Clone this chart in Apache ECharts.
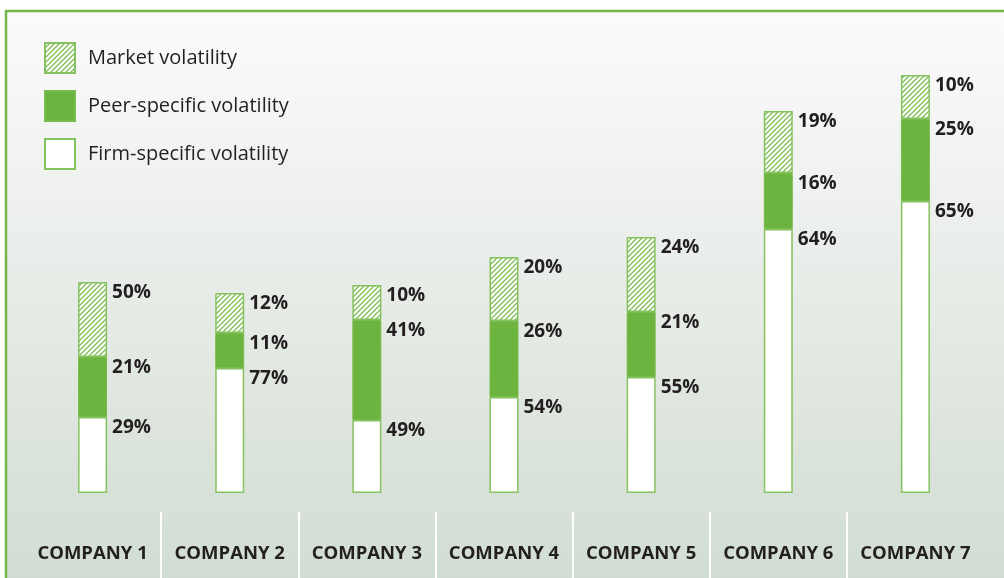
<!DOCTYPE html>
<html lang="en">
<head>
<meta charset="utf-8">
<title>Volatility breakdown</title>
<script src="https://cdn.jsdelivr.net/npm/echarts@6/dist/echarts.min.js"></script>
<style>
html,body{margin:0;padding:0;background:#fff;}
#main{width:1004px;height:578px;}
</style>
</head>
<body>
<div id="main"></div>
<script>
// categories
var companies = ['COMPANY 1','COMPANY 2','COMPANY 3','COMPANY 4','COMPANY 5','COMPANY 6','COMPANY 7'];
// drawn segment heights
var firmVal   = [76, 125, 73, 96, 116, 264, 292];
var peerVal   = [60, 35, 100, 76, 65, 56, 82];
var marketVal = [75, 40, 35, 64, 75, 62, 44];
// printed shares
var firmPct   = [29, 77, 49, 54, 55, 64, 65];
var peerPct   = [21, 11, 41, 26, 21, 16, 25];
var marketPct = [50, 12, 10, 20, 24, 19, 10];

var green = '#6db33f';
var edge = '#86c260';
var ink = '#231f20';
var font = '"Open Sans", sans-serif';

// hatch for market volatility
var hatch = document.createElement('canvas');
hatch.width = 5; hatch.height = 5;
var hc = hatch.getContext('2d');
hc.fillStyle = '#ffffff';
hc.fillRect(0, 0, 5, 5);
hc.strokeStyle = '#7dbd54';
hc.lineWidth = 1.3;
hc.beginPath();
hc.moveTo(-1, 6); hc.lineTo(6, -1);
hc.moveTo(-1, 1); hc.lineTo(1, -1);
hc.moveTo(4, 6); hc.lineTo(6, 4);
hc.stroke();

function lbl(arr) {
  return {
    show: true,
    position: ['100%', 0],
    offset: [5, 11],
    align: 'left',
    verticalAlign: 'middle',
    color: ink,
    fontFamily: font,
    fontWeight: 'bold',
    fontSize: 19,
    formatter: function (p) { return arr[p.dataIndex] + '%'; }
  };
}

var chart = echarts.init(document.getElementById('main'));
chart.setOption({
  backgroundColor: '#ffffff',
  animation: false,
  graphic: [
    {
      type: 'rect', silent: true, z: -10,
      shape: {x: 6, y: 11, width: 1000, height: 570},
      style: {
        fill: new echarts.graphic.LinearGradient(0, 0, 0, 1, [
          {offset: 0, color: '#fbfbfb'},
          {offset: 0.45, color: '#e9ede9'},
          {offset: 1, color: '#d1ddd2'}
        ])
      }
    },
    {
      type: 'polyline', silent: true, z: -9,
      shape: {points: [[6, 580], [6, 11], [1006, 11]]},
      style: {stroke: '#74b748', lineWidth: 2.5, fill: null}
    }
  ],
  legend: {
    orient: 'vertical',
    left: 44,
    top: 42,
    padding: 0,
    itemWidth: 30,
    itemHeight: 30,
    itemGap: 16,
    icon: 'rect',
    data: ['Market volatility', 'Peer-specific volatility', 'Firm-specific volatility'],
    textStyle: {color: ink, fontFamily: font, fontSize: 20, padding: [0, 0, 0, 8]}
  },
  grid: [
    {left: 24, right: 20, top: 73, bottom: 85},
    {left: 24, right: 20, top: 512, bottom: 0}
  ],
  xAxis: [
    {
      type: 'category', data: companies, gridIndex: 0,
      axisLine: {show: false}, axisTick: {show: false},
      axisLabel: {interval: 0, margin: 51, color: ink, fontFamily: font, fontWeight: 'bold', fontSize: 18.5}
    },
    {
      type: 'category', data: companies, gridIndex: 1, position: 'top',
      axisLine: {show: false}, axisTick: {show: false}, axisLabel: {show: false},
      splitLine: {show: true, interval: 0, showMinLine: false, showMaxLine: false, lineStyle: {color: '#ffffff', width: 2}}
    }
  ],
  yAxis: [
    {type: 'value', min: 0, max: 420, gridIndex: 0, show: false},
    {type: 'value', gridIndex: 1, show: false}
  ],
  series: [
    {
      name: 'Firm-specific volatility', type: 'bar', stack: 'v', barWidth: 29,
      data: firmVal,
      itemStyle: {color: '#ffffff', borderColor: edge, borderWidth: 1.5},
      label: lbl(firmPct)
    },
    {
      name: 'Peer-specific volatility', type: 'bar', stack: 'v', barWidth: 29,
      data: peerVal,
      itemStyle: {color: green, borderColor: '#78bb4e', borderWidth: 1},
      label: lbl(peerPct)
    },
    {
      name: 'Market volatility', type: 'bar', stack: 'v', barWidth: 29,
      data: marketVal,
      itemStyle: {color: {image: hatch, repeat: 'repeat'}, borderColor: edge, borderWidth: 1.5},
      label: lbl(marketPct)
    }
  ]
});
</script>
</body>
</html>
